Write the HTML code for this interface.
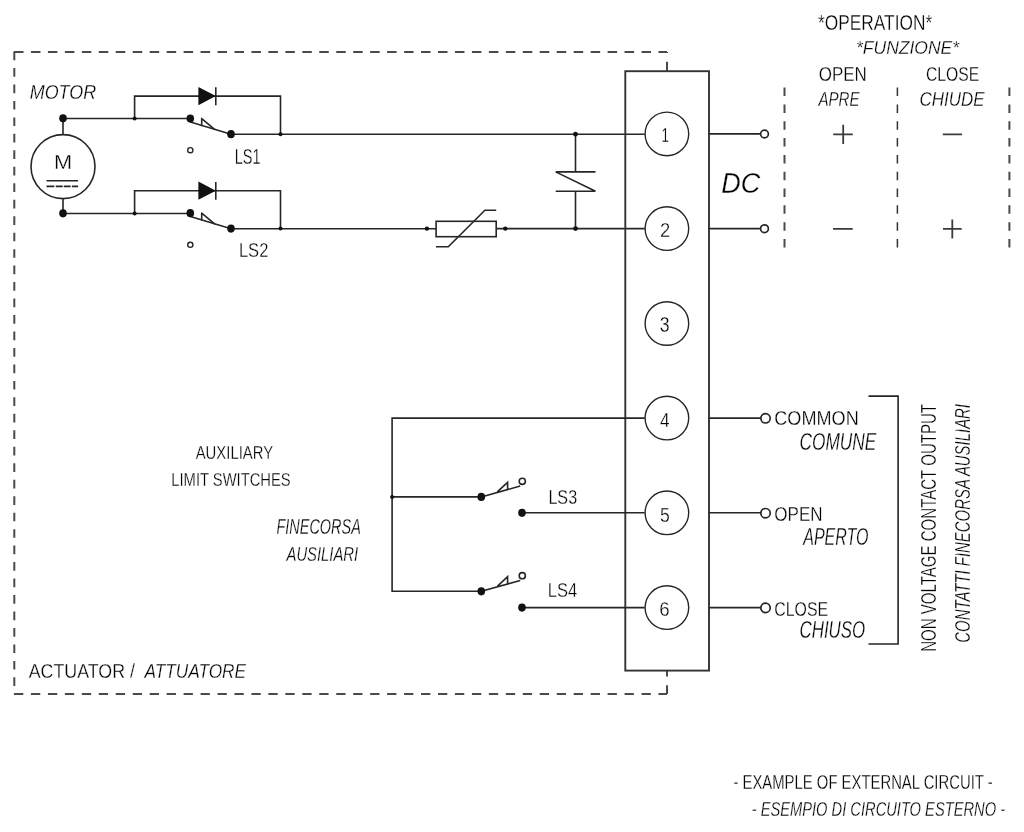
<!DOCTYPE html>
<html><head><meta charset="utf-8"><style>
html,body{margin:0;padding:0;background:#fff;}
svg{display:block;}
text{font-family:"Liberation Sans",sans-serif;fill:#000;stroke:#fff;stroke-width:0.3px;}
svg{will-change:transform;}
</style></head><body>
<svg width="1024" height="832" viewBox="0 0 1024 832">
<rect width="1024" height="832" fill="#fff"/>
<g fill="none" stroke="#4a4a4a" stroke-width="2">
<path d="M14,52 H667" stroke-dasharray="9.5 7.46"/>
<path d="M14.3,51.5 V694" stroke-dasharray="8.7 7.77"/>
<path d="M14,694 H667" stroke-dasharray="9.3 7.66"/>
<path d="M667,52 V53 M667,61.8 V71.2"/>
<path d="M667,670.5 V676.6 M667,685.2 V694"/>
<path d="M784.5,87.6 V248" stroke-dasharray="8.5 8.32"/>
<path d="M897.4,87.6 V248" stroke-dasharray="8.5 8.32" stroke="#333" stroke-width="1.5"/>
<path d="M1009.4,87.6 V248" stroke-dasharray="8.5 8.32"/>
</g>
<g fill="none" stroke="#262626" stroke-width="1.6">
<!-- motor -->
<circle cx="63" cy="166.6" r="32"/>
<path d="M63,118.5 V134.6 M63,198.6 V213.5"/>
<path d="M46.5,180.7 H78.1"/>
<path d="M46.5,186.4 H54.3 M55.7,186.4 H62.7 M63.8,186.4 H70.6 M71.9,186.4 H78.1"/>
<!-- LS1 -->
<path d="M63,118.5 H190.3"/>
<path d="M134.6,118.5 V96.1 H280.5 V134.2"/>
<path d="M215.8,87.3 V105.2"/>
<path d="M190.4,122 L231,134.2 H644.8"/>
<path d="M201.7,118.6 V125.4 M201.7,118.6 L214.6,129.3" stroke-linecap="round"/>
<circle cx="190.3" cy="150.2" r="2.6" stroke-width="1.4"/>
<!-- LS2 -->
<path d="M63,213.5 H190.3"/>
<path d="M134.6,213.5 V190.7 H280.5 V228.6"/>
<path d="M215.8,181.9 V199.8"/>
<path d="M190.4,216.6 L231,228.8 H436.1 M496.2,228.6 H644.8"/>
<path d="M201.7,213.2 V220 M201.7,213.2 L214.6,223.9" stroke-linecap="round"/>
<circle cx="190.3" cy="244.8" r="2.6" stroke-width="1.4"/>
<!-- varistor -->
<rect x="436.1" y="221.3" width="60.1" height="15.4"/>
<path d="M436,246.8 H448.3 L484.9,210.3 H496.2"/>
<!-- capacitor -->
<path d="M575.5,134.2 V171.9 M555.7,171.9 H595.5 M555.7,171.9 L595.5,191.2 M555.7,191.2 H595.5 M575.5,191.2 V228.6"/>
<!-- terminal block -->
<rect x="625.3" y="71.2" width="83.7" height="599.4" stroke="#333" stroke-width="1.9"/>
<circle cx="666.9" cy="133.9" r="21.8" stroke-width="1.4"/>
<circle cx="666.9" cy="228.6" r="21.8" stroke-width="1.4"/>
<circle cx="666.9" cy="323.5" r="21.8" stroke-width="1.4"/>
<circle cx="666.9" cy="418.1" r="21.8" stroke-width="1.4"/>
<circle cx="666.9" cy="512.8" r="21.8" stroke-width="1.4"/>
<circle cx="666.9" cy="607.6" r="21.8" stroke-width="1.4"/>
<path d="M708.5,133.9 H760.6 M708.5,228.6 H760.6 M708.5,418.1 H760.8 M708.5,512.8 H760.8 M708.5,607.6 H760.8"/>
<g stroke-width="1.7">
<circle cx="764.5" cy="134" r="3.9"/>
<circle cx="764.5" cy="228.7" r="3.9"/>
<circle cx="765.5" cy="418.3" r="4.7"/>
<circle cx="765.5" cy="513.2" r="4.7"/>
<circle cx="765.5" cy="607.9" r="4.7"/>
</g>
<!-- LS3/LS4 -->
<path d="M644.8,418.1 H392.1 V591.3 H481.3 M392.1,496.9 H481.3"/>
<path d="M481.3,496.9 L520.2,486.1 M497.3,491.9 L507.6,482.3 V489.1"/>
<circle cx="522.3" cy="481.3" r="3.1"/>
<path d="M522,512.8 H644.8"/>
<path d="M481.3,591.3 L520.2,580.5 M497.3,586.3 L507.6,576.7 V583.5"/>
<circle cx="522.3" cy="575.7" r="3.1"/>
<path d="M522,607.6 H644.8"/>
<!-- bracket -->
<path d="M868.5,396.1 H898.1 V644 H868.5"/>
<!-- plus/minus -->
<path stroke="#3a3a3a" stroke-width="1.8" d="M833.2,134.3 H852.8 M843.2,124.7 V144 M942.8,134.3 H962.1 M833,228.9 H852.7 M943,228.9 H961.7 M952.3,219.4 V238.4"/>
</g>
<g fill="#111" stroke="none">
<ellipse cx="63" cy="118.3" rx="3.8" ry="4.1"/>
<ellipse cx="63" cy="213.3" rx="3.8" ry="4.1"/>
<circle cx="134.6" cy="118.5" r="2"/>
<circle cx="280.5" cy="134.2" r="2"/>
<ellipse cx="190.3" cy="118.6" rx="3.8" ry="4.1"/>
<ellipse cx="231" cy="134.2" rx="3.8" ry="4.1"/>
<path d="M198.4,87 V105.2 L215.8,96.1 Z"/>
<circle cx="134.6" cy="213.5" r="2"/>
<circle cx="280.5" cy="228.6" r="2"/>
<ellipse cx="190.3" cy="213.2" rx="3.8" ry="4.1"/>
<ellipse cx="231" cy="228.6" rx="3.8" ry="4.1"/>
<path d="M198.4,181.6 V199.8 L215.8,190.7 Z"/>
<circle cx="426.9" cy="228.6" r="2.2"/>
<circle cx="505.3" cy="228.6" r="2.2"/>
<circle cx="575.5" cy="134.2" r="2.4"/>
<circle cx="575.5" cy="228.6" r="2.4"/>
<circle cx="392.1" cy="496.9" r="2"/>
<ellipse cx="481.3" cy="496.9" rx="3.8" ry="4.1"/>
<ellipse cx="522" cy="512.8" rx="3.8" ry="4.1"/>
<ellipse cx="481.3" cy="591.3" rx="3.8" ry="4.1"/>
<ellipse cx="522" cy="607.6" rx="3.8" ry="4.1"/>
</g>

<g>
<text x="29.70" y="99.00" font-size="20.49" font-style="italic" textLength="66.42" lengthAdjust="spacingAndGlyphs">MOTOR</text>
<text x="54.00" y="168.90" font-size="19.55" textLength="18.15" lengthAdjust="spacingAndGlyphs">M</text>
<text x="234.80" y="163.90" font-size="22.31" textLength="25.77" lengthAdjust="spacingAndGlyphs">LS1</text>
<text x="238.90" y="257.00" font-size="19.44" textLength="29.48" lengthAdjust="spacingAndGlyphs">LS2</text>
<text x="721.20" y="193.40" font-size="30.14" font-style="italic" textLength="38.95" lengthAdjust="spacingAndGlyphs">DC</text>
<text x="818.00" y="29.70" font-size="21.19" textLength="114.15" lengthAdjust="spacingAndGlyphs">*OPERATION*</text>
<text x="856.00" y="53.75" font-size="18.50" font-style="italic" textLength="103.12" lengthAdjust="spacingAndGlyphs">*FUNZIONE*</text>
<text x="818.70" y="81.25" font-size="21.07" textLength="48.17" lengthAdjust="spacingAndGlyphs">OPEN</text>
<text x="818.50" y="105.60" font-size="20.26" font-style="italic" textLength="41.07" lengthAdjust="spacingAndGlyphs">APRE</text>
<text x="925.90" y="81.00" font-size="19.44" textLength="53.30" lengthAdjust="spacingAndGlyphs">CLOSE</text>
<text x="919.60" y="105.60" font-size="20.26" font-style="italic" textLength="64.95" lengthAdjust="spacingAndGlyphs">CHIUDE</text>
<text x="774.30" y="425.40" font-size="20.34" textLength="84.49" lengthAdjust="spacingAndGlyphs">COMMON</text>
<text x="799.50" y="449.60" font-size="23.06" font-style="italic" textLength="76.76" lengthAdjust="spacingAndGlyphs">COMUNE</text>
<text x="774.30" y="520.60" font-size="20.49" textLength="48.31" lengthAdjust="spacingAndGlyphs">OPEN</text>
<text x="803.20" y="544.80" font-size="23.06" font-style="italic" textLength="65.36" lengthAdjust="spacingAndGlyphs">APERTO</text>
<text x="774.30" y="615.50" font-size="20.63" textLength="53.88" lengthAdjust="spacingAndGlyphs">CLOSE</text>
<text x="799.50" y="638.00" font-size="23.06" font-style="italic" textLength="65.66" lengthAdjust="spacingAndGlyphs">CHIUSO</text>
<text x="195.70" y="458.60" font-size="18.96" textLength="77.39" lengthAdjust="spacingAndGlyphs">AUXILIARY</text>
<text x="171.30" y="485.80" font-size="19.25" textLength="119.36" lengthAdjust="spacingAndGlyphs">LIMIT SWITCHES</text>
<text x="276.50" y="534.30" font-size="21.19" font-style="italic" textLength="84.28" lengthAdjust="spacingAndGlyphs">FINECORSA</text>
<text x="286.50" y="561.20" font-size="19.55" font-style="italic" textLength="71.67" lengthAdjust="spacingAndGlyphs">AUSILIARI</text>
<text x="28.70" y="677.60" font-size="19.45" textLength="106.34" lengthAdjust="spacingAndGlyphs">ACTUATOR /</text>
<text x="144.60" y="677.60" font-size="20.62" font-style="italic" textLength="101.43" lengthAdjust="spacingAndGlyphs">ATTUATORE</text>
<text x="548.40" y="503.80" font-size="20.62" textLength="28.73" lengthAdjust="spacingAndGlyphs">LS3</text>
<text x="547.80" y="597.00" font-size="19.44" textLength="29.44" lengthAdjust="spacingAndGlyphs">LS4</text>
<text x="733.40" y="788.60" font-size="20.17" textLength="259.32" lengthAdjust="spacingAndGlyphs">- EXAMPLE OF EXTERNAL CIRCUIT -</text>
<text x="751.70" y="816.00" font-size="19.55" font-style="italic" textLength="253.33" lengthAdjust="spacingAndGlyphs">- ESEMPIO DI CIRCUITO ESTERNO -</text>
<text x="661.50" y="141.90" font-size="20.96" textLength="7.47" lengthAdjust="spacingAndGlyphs">1</text>
<text x="659.90" y="236.70" font-size="20.34" textLength="10.24" lengthAdjust="spacingAndGlyphs">2</text>
<text x="659.80" y="331.80" font-size="22.31" textLength="9.80" lengthAdjust="spacingAndGlyphs">3</text>
<text x="659.90" y="426.60" font-size="20.71" textLength="9.55" lengthAdjust="spacingAndGlyphs">4</text>
<text x="660.00" y="521.60" font-size="20.62" textLength="9.81" lengthAdjust="spacingAndGlyphs">5</text>
<text x="659.30" y="615.80" font-size="19.61" textLength="10.41" lengthAdjust="spacingAndGlyphs">6</text>
<text transform="translate(935.80,651.80) rotate(-90)" x="0" y="0" font-size="21.19" textLength="247.83" lengthAdjust="spacingAndGlyphs">NON VOLTAGE CONTACT OUTPUT</text>
<text transform="translate(970.20,642.70) rotate(-90)" x="0" y="0" font-size="22.73" font-style="italic" textLength="238.72" lengthAdjust="spacingAndGlyphs">CONTATTI FINECORSA AUSILIARI</text>
</g>
</svg>
</body></html>
